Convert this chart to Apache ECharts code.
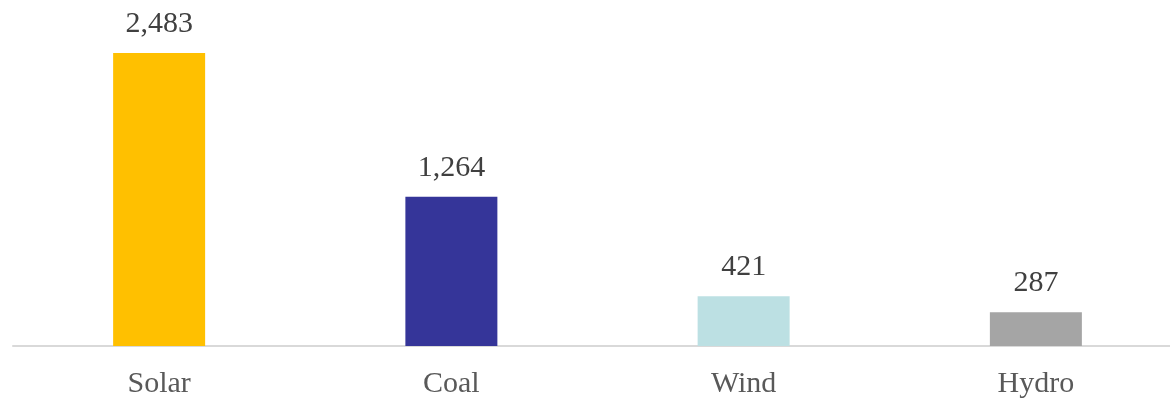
<!DOCTYPE html>
<html><head><meta charset="utf-8">
<script src="https://cdn.jsdelivr.net/npm/echarts@6/dist/echarts.min.js"></script>
<style>html,body{margin:0;padding:0;background:#fff;overflow:hidden}#c{width:1200px;height:401px}</style>
</head><body><div id="c"></div>
<script>
const categories = ['Solar', 'Coal', 'Wind', 'Hydro'];
const values = [2483, 1264, 421, 287];
const colors = ['#FFC000', '#353599', '#BCE0E3', '#A5A5A5'];

const chart = echarts.init(document.getElementById('c'), null, {renderer: 'canvas'});
chart.setOption({
  animation: false,
  grid: {left: 13, width: 1169, top: 53, height: 293, containLabel: false},
  xAxis: {
    type: 'category', data: categories,
    axisLine: {lineStyle: {color: '#D9D9D9', width: 2}},
    axisTick: {show: false},
    axisLabel: {color: '#595959', fontFamily: 'Liberation Serif', fontSize: 30, margin: 23}
  },
  yAxis: {type: 'value', min: 0, max: 2483, show: false, splitLine: {show: false}},
  series: [{
    type: 'bar', barWidth: 92,
    data: values.map((v, i) => ({value: v, itemStyle: {color: colors[i]}})),
    label: {
      show: true, position: 'top', distance: 14,
      color: '#404040', fontFamily: 'Liberation Serif', fontSize: 30,
      formatter: p => p.value.toLocaleString('en-US')
    }
  }]
});
</script></body></html>
